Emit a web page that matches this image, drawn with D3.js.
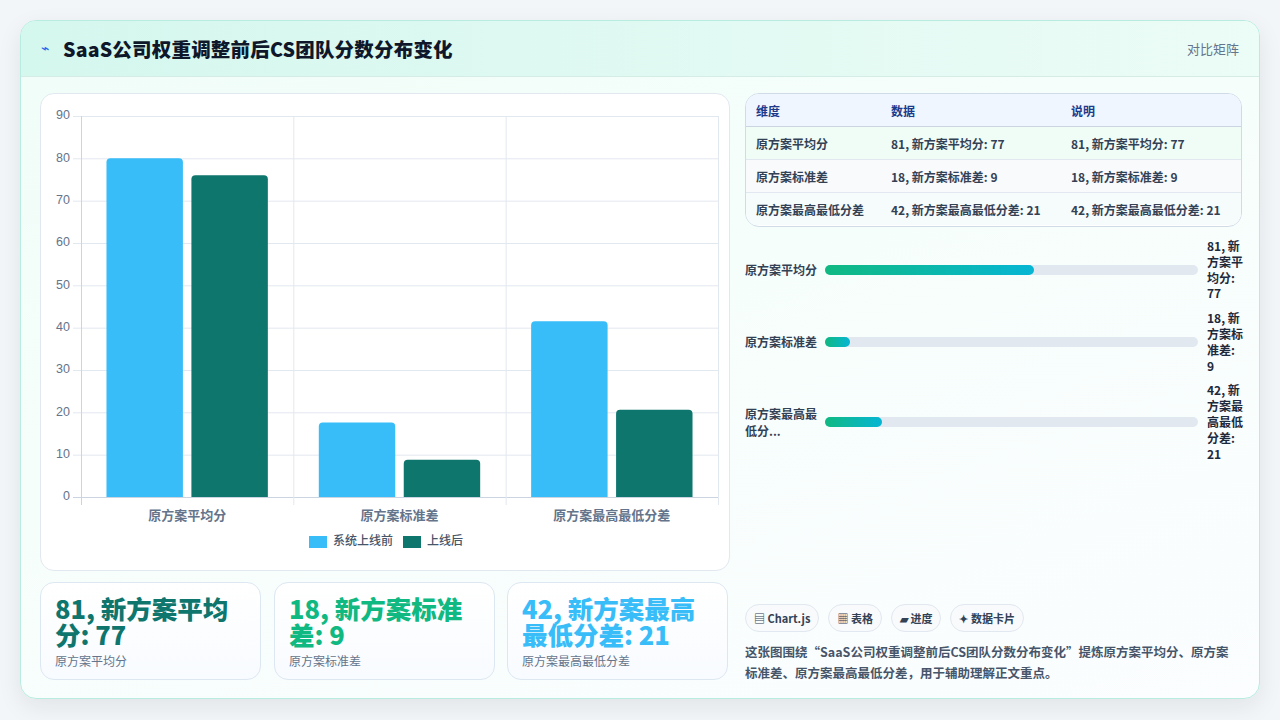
<!DOCTYPE html>
<html lang="zh-CN">
<head>
<meta charset="utf-8">
<title>SaaS公司权重调整前后CS团队分数分布变化</title>
<script src="https://cdn.jsdelivr.net/npm/d3@7/dist/d3.min.js"></script>
<style>
  html, body { margin: 0; padding: 0; }
  body {
    width: 1280px; height: 720px; overflow: hidden;
    background: #f3f6f8;
    font-family: "Noto Sans CJK SC", "Noto Sans", sans-serif;
    color: #334155;
    position: relative;
  }
  .frame {
    position: absolute; left: 20px; top: 20px; width: 1238px; height: 677px;
    border: 1px solid #b9ece0; border-radius: 16px; overflow: hidden;
    background: linear-gradient(160deg, #f0fdf8 0%, #f6fefb 45%, #fbfdff 100%);
    box-shadow: 0 8px 24px rgba(15, 23, 42, 0.08);
  }
  .head {
    position: absolute; left: 0; top: 0; width: 100%; height: 55px;
    background: linear-gradient(90deg, #d4f7ee 0%, #e2faf3 60%, #ecfcf6 100%);
    border-bottom: 1px solid #d5ebe6;
  }
  .head .icon { position: absolute; left: 20px; top: 16px; font-size: 14px; color: #2563eb; }
  .head .title { position: absolute; left: 42px; top: 13px; font-size: 19.5px; font-weight: 800; color: #0f172a; letter-spacing: 0.2px; }
  .head .tag { position: absolute; right: 20px; top: 18px; font-size: 13px; color: #64748b; }
  .card {
    position: absolute; background: #fff; border: 1px solid #e2e8f0; border-radius: 14px;
  }
  table { border-collapse: collapse; width: 100%; font-size: 12px; table-layout: fixed; }
  th { text-align: left; font-weight: 700; color: #1e3a8a; height: 32px; padding: 0 0 0 10px; background: #eff6ff; border-bottom: 1px solid #cbd5e1; }
  td { font-weight: 700; color: #334155; height: 32px; padding: 0 0 0 10px; border-bottom: 1px solid #e2e8f0; white-space: nowrap; }
  tr:last-child td { border-bottom: none; }
  .prog { position: absolute; left: 724px; top: 217px; width: 500px; display: flex; flex-direction: column; gap: 9px; }
  .prow { display: flex; align-items: center; }
  .plabel { width: 72px; font-size: 12px; font-weight: 600; color: #334155; line-height: 17px; margin-right: 8px; }
  .ptrack { width: 373px; height: 10px; border-radius: 5px; background: #e2e8f0; position: relative; }
  .pfill { position: absolute; left: 0; top: 0; height: 10px; border-radius: 5px; background: linear-gradient(90deg, #10b981, #06b6d4); }
  .pval { width: 37px; margin-left: 9px; font-size: 12px; font-weight: 700; color: #1e293b; line-height: 15.8px; }
  .kpi { position: absolute; top: 561px; height: 98px; width: 221px; border: 1px solid #dde7f2; border-radius: 14px;
         background: linear-gradient(180deg, #ffffff 0%, #f8fbff 100%); box-sizing: border-box; padding: 12px 14px 0 14px; }
  .kpi .v { font-size: 25.5px; font-weight: 800; line-height: 26px; width: 180px; }
  .kpi .l { font-size: 12px; color: #64748b; margin-top: 5px; }
  .tags { position: absolute; left: 724px; top: 583px; display: flex; gap: 9px; }
  .pill { height: 26px; line-height: 26px; padding: 0 8px; border: 1px solid #e2e8f0; border-radius: 14px; background: #f8fafc;
          font-size: 11px; font-weight: 700; color: #334155; }
  .desc { position: absolute; left: 724px; top: 620px; width: 490px; font-size: 12.5px; font-weight: 600; color: #475569; line-height: 21px; }
</style>
</head>
<body>
<div class="frame" id="frame"></div>
<script>
// chart data
const categories = ["原方案平均分", "原方案标准差", "原方案最高最低分差"];
const seriesNames = ["系统上线前", "上线后"];
const beforeValues = [80, 17.6, 41.5];
const afterValues = [76, 8.8, 20.6];
const seriesColors = ["#38bdf8", "#0f766e"];

// table
const tableHead = ["维度", "数据", "说明"];
const tableDims = ["原方案平均分", "原方案标准差", "原方案最高最低分差"];
const tableData = ["81, 新方案平均分: 77", "18, 新方案标准差: 9", "42, 新方案最高最低分差: 21"];
const tableNotes = ["81, 新方案平均分: 77", "18, 新方案标准差: 9", "42, 新方案最高最低分差: 21"];

// progress rows
const progressLabels = ["原方案平均分", "原方案标准差", "原方案最高最低分..."];
const progressPct = [56, 6.6, 15.2];
const progressText = ["81, 新方案平均分: 77", "18, 新方案标准差: 9", "42, 新方案最高最低分差: 21"];

// kpi cards
const cardValues = ["81, 新方案平均分: 77", "18, 新方案标准差: 9", "42, 新方案最高最低分差: 21"];
const cardLabels = ["原方案平均分", "原方案标准差", "原方案最高最低分差"];
const cardColors = ["#0f766e", "#10b981", "#38bdf8"];

const tagLabels = ["▤ Chart.js", "▦ 表格", "▰ 进度", "✦ 数据卡片"];
const descText = "这张图围绕“SaaS公司权重调整前后CS团队分数分布变化”提炼原方案平均分、原方案标准差、原方案最高最低分差，用于辅助理解正文重点。";

const frame = d3.select("#frame");

// header
const head = frame.append("div").attr("class", "head");
head.append("span").attr("class", "icon").text("⌁");
head.append("span").attr("class", "title").text("SaaS公司权重调整前后CS团队分数分布变化");
head.append("span").attr("class", "tag").text("对比矩阵");

// chart card
const chartCard = frame.append("div").attr("class", "card")
  .style("left", "19px").style("top", "72px").style("width", "688px").style("height", "476px");

const W = 688, H = 476;
const svg = chartCard.append("svg").attr("width", W).attr("height", H)
  .style("position", "absolute").style("left", 0).style("top", 0);

// plot area relative to card
const plot = { left: 40, right: 677, top: 22, bottom: 403 };

const y = d3.scaleLinear().domain([0, 90]).range([plot.bottom, plot.top]);
const x0 = d3.scaleBand().domain(categories).range([plot.left, plot.right]);
const bw = x0.bandwidth();
const x1 = d3.scaleBand().domain(seriesNames).range([bw * 0.1, bw * 0.9]).paddingInner(0.1).paddingOuter(0.05);

const gridColor = "#e2e8f0";
const tickFont = "Liberation Sans, Arial, sans-serif";

// horizontal grid + y labels
const yTicks = y.ticks(9);
svg.append("g").selectAll("line").data(yTicks).enter().append("line")
  .attr("x1", plot.left - 8).attr("x2", plot.right)
  .attr("y1", (d) => y(d) + 0.5).attr("y2", (d) => y(d) + 0.5)
  .attr("stroke", (d) => (d === 0 ? "#cbd5e1" : gridColor)).attr("stroke-width", 1);

svg.append("g").selectAll("text").data(yTicks).enter().append("text")
  .attr("x", plot.left - 11).attr("y", (d) => y(d))
  .attr("text-anchor", "end").attr("dominant-baseline", "middle")
  .attr("font-size", "12.5px").attr("font-family", tickFont).attr("fill", "#64748b")
  .text((d) => d);

// vertical grid at category boundaries
const vLines = categories.map((c) => x0(c)).concat([plot.right]);
svg.append("g").selectAll("line").data(vLines).enter().append("line")
  .attr("x1", (d) => d + 0.5).attr("x2", (d) => d + 0.5)
  .attr("y1", plot.top).attr("y2", plot.bottom + 8)
  .attr("stroke", (d, i) => (i === 0 ? "#cbd5e1" : gridColor)).attr("stroke-width", 1);

// bars
const barData = [];
categories.forEach((c, i) => {
  barData.push({ cat: c, s: seriesNames[0], v: beforeValues[i], color: seriesColors[0] });
  barData.push({ cat: c, s: seriesNames[1], v: afterValues[i], color: seriesColors[1] });
});

function topRoundedRect(x, yTop, w, h, r) {
  const yb = yTop + h;
  return `M${x},${yb} L${x},${yTop + r} Q${x},${yTop} ${x + r},${yTop} L${x + w - r},${yTop} Q${x + w},${yTop} ${x + w},${yTop + r} L${x + w},${yb} Z`;
}

svg.append("g").selectAll("path").data(barData).enter().append("path")
  .attr("d", (d) => topRoundedRect(x0(d.cat) + x1(d.s), y(d.v), x1.bandwidth(), plot.bottom - y(d.v), 4))
  .attr("fill", (d) => d.color);

// x labels
svg.append("g").selectAll("text").data(categories).enter().append("text")
  .attr("x", (d) => x0(d) + bw / 2).attr("y", plot.bottom + 19)
  .attr("text-anchor", "middle").attr("dominant-baseline", "middle")
  .attr("font-size", "13px").attr("font-weight", 600).attr("fill", "#64748b")
  .text((d) => d);

// legend
const legendX = [268, 362];
const legend = svg.append("g").selectAll("g").data(seriesNames).enter().append("g")
  .attr("transform", (d, i) => `translate(${legendX[i]}, ${448})`);
legend.append("rect").attr("width", 18).attr("height", 12).attr("y", -6)
  .attr("fill", (d, i) => seriesColors[i]);
legend.append("text").attr("x", 24).attr("dominant-baseline", "middle")
  .attr("font-size", "12px").attr("font-weight", 500).attr("fill", "#475569").text((d) => d);

// table
const tableCard = frame.append("div").attr("class", "card")
  .style("left", "724px").style("top", "72px").style("width", "495px").style("height", "132px")
  .style("overflow", "hidden").style("border-color", "#cfdbe6");
const table = tableCard.append("table");
const colW = ["125px", "170px", "auto"];
table.append("tr").selectAll("th").data(tableHead).enter().append("th")
  .style("width", (d, i) => colW[i]).text((d) => d);
const rowBg = ["#f0fdf6", "#f8fafc", "#f6fbfb"];
tableDims.forEach((dim, i) => {
  const tr = table.append("tr").style("background", rowBg[i]);
  tr.selectAll("td").data([dim, tableData[i], tableNotes[i]]).enter().append("td").text((d) => d);
});

// progress bars
const trackW = 373;
const px = d3.scaleLinear().domain([0, 100]).range([0, trackW]);
const prog = frame.append("div").attr("class", "prog");
const prow = prog.selectAll(".prow").data(progressLabels).enter().append("div").attr("class", "prow");
prow.append("div").attr("class", "plabel").text((d) => d);
prow.append("div").attr("class", "ptrack")
  .append("div").attr("class", "pfill").style("width", (d, i) => px(progressPct[i]) + "px");
prow.append("div").attr("class", "pval").text((d, i) => progressText[i]);

// kpi cards
const cardLeft = [19, 253, 486];
const kpi = frame.selectAll(".kpi").data(cardValues).enter().append("div").attr("class", "kpi")
  .style("left", (d, i) => cardLeft[i] + "px");
kpi.append("div").attr("class", "v").style("color", (d, i) => cardColors[i]).text((d) => d);
kpi.append("div").attr("class", "l").text((d, i) => cardLabels[i]);

// tags + description
frame.append("div").attr("class", "tags").selectAll(".pill").data(tagLabels).enter()
  .append("div").attr("class", "pill").text((d) => d);
frame.append("div").attr("class", "desc").text(descText);
</script>
</body>
</html>
